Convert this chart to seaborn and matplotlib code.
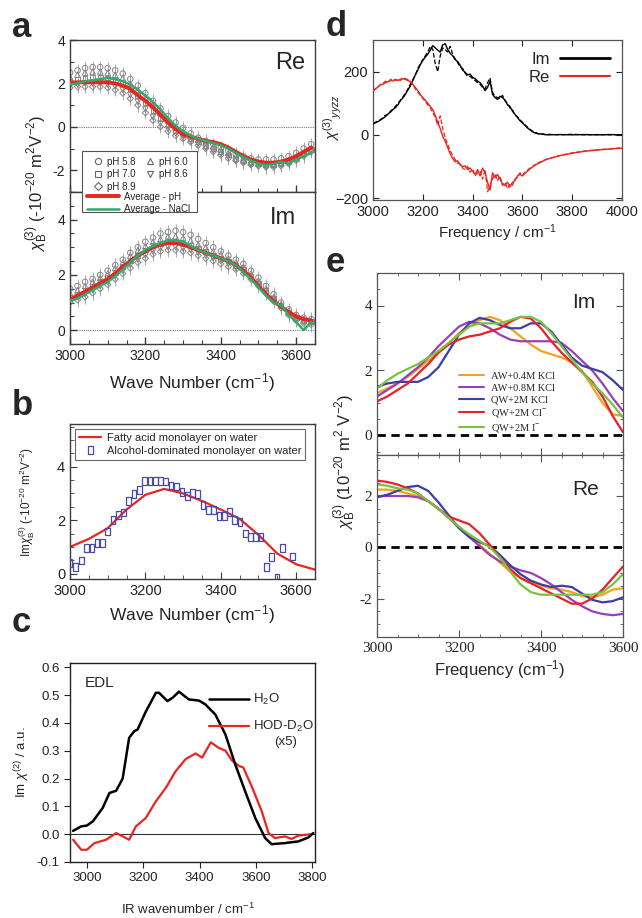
import numpy as np
import pandas as pd
import matplotlib
matplotlib.use("Agg")
import matplotlib.pyplot as plt
import seaborn as sns
from matplotlib.lines import Line2D
from matplotlib.patches import Rectangle
from matplotlib.ticker import MultipleLocator, FuncFormatter, FormatStrFormatter

# ====================== DATA ======================
# ---- panel a (pH series, Re and Im) ----
a_wn = list(range(3000, 3641, 20))
a_ph_labels = ["pH 5.8", "pH 6.0", "pH 7.0", "pH 8.6", "pH 8.9"]
a_re_ph58 = [2.5, 2.6, 2.7, 2.75, 2.75, 2.7, 2.6, 2.45, 2.2, 1.9, 1.55, 1.2, 0.85, 0.5, 0.2, -0.05, -0.3, -0.5, -0.65,
             -0.8, -0.95, -1.1, -1.25, -1.35, -1.45, -1.5, -1.5, -1.5, -1.45, -1.35, -1.2, -1.0, -0.8]
a_re_ph60 = [2.3, 2.4, 2.5, 2.55, 2.55, 2.5, 2.4, 2.25, 2.0, 1.7, 1.35, 1.0, 0.65, 0.3, 0.0, -0.25, -0.45, -0.6, -0.75,
             -0.9, -1.05, -1.2, -1.35, -1.5, -1.6, -1.65, -1.7, -1.7, -1.65, -1.55, -1.4, -1.2, -1.0]
a_re_ph70 = [2.1, 2.2, 2.25, 2.3, 2.3, 2.25, 2.15, 2.0, 1.75, 1.45, 1.1, 0.75, 0.4, 0.1, -0.15, -0.35, -0.55, -0.7, -0.85,
             -1.0, -1.15, -1.3, -1.45, -1.55, -1.65, -1.7, -1.75, -1.75, -1.7, -1.6, -1.45, -1.25, -1.05]
a_re_ph86 = [1.9, 1.95, 2.0, 2.0, 2.0, 1.95, 1.85, 1.7, 1.45, 1.15, 0.8, 0.45, 0.15, -0.1, -0.3, -0.5, -0.65, -0.8, -0.95,
             -1.1, -1.25, -1.4, -1.55, -1.65, -1.75, -1.8, -1.85, -1.8, -1.75, -1.65, -1.5, -1.3, -1.1]
a_re_ph89 = [1.8, 1.85, 1.85, 1.85, 1.85, 1.8, 1.7, 1.55, 1.3, 1.0, 0.65, 0.3, 0.0, -0.2, -0.4, -0.55, -0.7, -0.85, -1.0,
             -1.15, -1.3, -1.45, -1.55, -1.65, -1.75, -1.8, -1.85, -1.85, -1.8, -1.7, -1.55, -1.35, -1.15]
a_re_avg_ph = [2.05, 2.05, 2.05, 2.05, 2.05, 2.05, 2.0, 1.9, 1.75, 1.45, 1.2, 0.9, 0.55, 0.2, -0.1, -0.35, -0.45, -0.55,
               -0.65, -0.7, -0.8, -0.95, -1.15, -1.35, -1.5, -1.6, -1.65, -1.65, -1.6, -1.5, -1.35, -1.15, -0.95]
a_re_avg_nacl = [1.95, 2.0, 2.1, 2.15, 2.2, 2.25, 2.2, 2.1, 1.95, 1.7, 1.45, 1.15, 0.8, 0.4, 0.05, -0.2, -0.4, -0.55,
                 -0.65, -0.75, -0.85, -1.0, -1.2, -1.4, -1.55, -1.7, -1.75, -1.72, -1.6, -1.7, -1.5, -1.35, -1.2]
a_im_ph58 = [1.5, 1.6, 1.75, 1.85, 2.0, 2.15, 2.35, 2.55, 2.8, 3.0, 3.2, 3.35, 3.5, 3.55, 3.6, 3.55, 3.45, 3.3, 3.15,
             3.0, 2.85, 2.7, 2.55, 2.4, 2.15, 1.9, 1.6, 1.3, 1.0, 0.75, 0.55, 0.45, 0.4]
a_im_ph60 = [1.35, 1.45, 1.6, 1.75, 1.9, 2.05, 2.25, 2.45, 2.7, 2.9, 3.05, 3.2, 3.3, 3.4, 3.4, 3.35, 3.25, 3.1, 3.0,
             2.85, 2.75, 2.6, 2.45, 2.3, 2.05, 1.8, 1.5, 1.2, 0.95, 0.7, 0.5, 0.4, 0.35]
a_im_ph70 = [1.2, 1.3, 1.45, 1.6, 1.75, 1.9, 2.1, 2.3, 2.5, 2.7, 2.9, 3.05, 3.15, 3.2, 3.2, 3.15, 3.05, 2.95, 2.85,
             2.7, 2.6, 2.5, 2.35, 2.2, 1.95, 1.7, 1.45, 1.15, 0.9, 0.65, 0.45, 0.35, 0.3]
a_im_ph86 = [1.1, 1.2, 1.3, 1.45, 1.6, 1.75, 1.95, 2.15, 2.35, 2.55, 2.7, 2.85, 2.95, 3.0, 3.0, 2.95, 2.9, 2.8, 2.7,
             2.6, 2.5, 2.4, 2.25, 2.1, 1.9, 1.65, 1.4, 1.1, 0.85, 0.6, 0.4, 0.3, 0.25]
a_im_ph89 = [1.0, 1.1, 1.2, 1.35, 1.5, 1.65, 1.85, 2.05, 2.25, 2.45, 2.6, 2.75, 2.85, 2.9, 2.9, 2.85, 2.8, 2.7, 2.6,
             2.5, 2.4, 2.3, 2.2, 2.05, 1.85, 1.6, 1.35, 1.05, 0.8, 0.55, 0.35, 0.25, 0.2]
a_im_avg_ph = [1.1, 1.25, 1.4, 1.55, 1.7, 1.85, 2.05, 2.3, 2.5, 2.7, 2.85, 3.0, 3.1, 3.15, 3.15, 3.1, 3.0, 2.9, 2.8,
               2.7, 2.6, 2.5, 2.35, 2.15, 1.9, 1.6, 1.3, 1.05, 0.85, 0.65, 0.5, 0.4, 0.35]
a_im_avg_nacl = [1.05, 1.15, 1.3, 1.45, 1.6, 1.75, 1.95, 2.2, 2.45, 2.7, 2.9, 3.05, 3.15, 3.25, 3.25, 3.2, 3.05, 2.9,
                 2.8, 2.7, 2.6, 2.5, 2.35, 2.1, 1.85, 1.55, 1.25, 1.0, 0.9, 0.55, 0.3, 0.0, 0.3]
a_re_err = 0.3
a_im_err = 0.25

# ---- panel b ----
b_fit_wn = [3000, 3050, 3100, 3150, 3200, 3250, 3300, 3350, 3400, 3450, 3500, 3550, 3600, 3650]
b_fit_val = [1.0, 1.3, 1.7, 2.4, 2.95, 3.17, 3.0, 2.72, 2.4, 2.05, 1.45, 0.75, 0.35, 0.15]
b_pts_wn = [2999, 3014, 3030, 3043, 3058, 3072, 3086, 3100, 3114, 3128, 3142, 3156, 3170, 3184, 3198, 3212, 3226,
            3240, 3254, 3268, 3282, 3297, 3311, 3325, 3339, 3353, 3367, 3381, 3395, 3409, 3423, 3437, 3451, 3465,
            3479, 3493, 3507, 3521, 3535, 3549, 3563, 3591]
b_pts_val = [0.39, 0.24, 0.49, 0.96, 0.96, 1.15, 1.15, 1.58, 2.02, 2.19, 2.29, 2.72, 2.98, 3.13, 3.48, 3.48, 3.48,
             3.48, 3.45, 3.3, 3.26, 3.07, 2.91, 3.01, 2.98, 2.57, 2.38, 2.38, 2.15, 2.15, 2.31, 2.02, 1.94, 1.5,
             1.37, 1.37, 1.37, 0.24, 0.62, -0.15, 0.97, 0.64]

# ---- panel c ----
c_h2o_wn = [2951, 2980, 3000, 3021, 3056, 3080, 3104, 3127, 3150, 3168, 3180, 3209, 3245, 3256, 3286, 3304, 3327,
            3362, 3398, 3421, 3456, 3492, 3527, 3562, 3598, 3633, 3656, 3703, 3751, 3786, 3804]
c_h2o_val = [0.012, 0.028, 0.031, 0.046, 0.094, 0.148, 0.156, 0.2, 0.346, 0.37, 0.376, 0.44, 0.508, 0.508, 0.478,
             0.49, 0.512, 0.484, 0.48, 0.466, 0.43, 0.358, 0.25, 0.154, 0.058, -0.014, -0.036, -0.032, -0.026,
             -0.012, 0.004]
c_hod_wn = [2951, 2980, 3000, 3027, 3068, 3104, 3127, 3150, 3174, 3209, 3245, 3280, 3315, 3351, 3386, 3409, 3440,
            3468, 3492, 3515, 3540, 3555, 3586, 3621, 3645, 3668, 3703, 3727, 3751, 3798]
c_hod_val = [-0.02, -0.056, -0.056, -0.032, -0.02, 0.004, -0.008, -0.02, 0.028, 0.058, 0.118, 0.166, 0.226, 0.27,
             0.29, 0.275, 0.33, 0.31, 0.3, 0.265, 0.245, 0.24, 0.17, 0.082, 0.004, -0.014, -0.008, -0.017, -0.005, 0.0]

# ---- panel d ----
d_wn = list(range(3000, 3701, 10)) + [3750, 3800, 3850, 3900, 3950, 4000]
d_im_solid = [35, 38, 42, 47, 52, 58, 66, 72, 80, 86, 95, 108, 117, 128, 142, 155, 172, 190, 205, 222, 235, 246, 255,
              268, 282, 275, 268, 262, 285, 288, 270, 258, 250, 238, 232, 220, 205, 198, 190, 192, 182, 178, 170, 165,
              155, 140, 150, 170, 128, 118, 112, 122, 118, 110, 95, 90, 75, 65, 55, 45, 38, 30, 22, 16, 10, 6, 4, 3,
              2, 1, 0, 1, 0, 1, 0, 1, 0]
d_im_dash = [38, 40, 44, 48, 55, 62, 64, 75, 82, 90, 100, 110, 120, 132, 145, 160, 175, 188, 210, 225, 238, 250, 262,
             280, 270, 225, 200, 250, 275, 270, 262, 280, 255, 240, 228, 215, 210, 195, 185, 185, 178, 172, 165, 160,
             150, 145, 165, 180, 135, 122, 118, 115, 125, 108, 100, 85, 80, 62, 58, 48, 40, 32, 25, 18, 12, 8, 5, 2,
             4, 1, 2, 0, 2, 0, 1, 0, 1]
d_re_solid = [140, 145, 152, 158, 160, 165, 168, 172, 170, 175, 172, 176, 178, 175, 172, 168, 160, 150, 140, 128, 118,
              110, 100, 90, 80, 62, 40, 20, -5, -20, -40, -60, -75, -85, -82, -95, -100, -98, -110, -105, -115, -125,
              -110, -130, -105, -120, -150, -175, -120, -135, -125, -140, -155, -160, -150, -165, -150, -145, -130,
              -125, -130, -122, -115, -108, -102, -96, -92, -88, -84, -80, -77, -66, -58, -52, -48, -45, -42]
d_re_dash = [138, 146, 150, 160, 163, 170, 166, 175, 178, 172, 178, 172, 180, 178, 175, 170, 158, 145, 135, 125, 115,
             105, 95, 85, 70, 55, 30, 60, 20, -10, -30, -50, -65, -78, -90, -92, -105, -110, -100, -118, -108, -130,
             -120, -115, -140, -110, -180, -160, -140, -125, -145, -130, -160, -150, -170, -155, -160, -140, -135,
             -120, -128, -118, -112, -105, -100, -95, -90, -86, -82, -79, -76, -65, -57, -51, -47, -44, -41]

# ---- panel e ----
e_wn = list(range(3000, 3601, 25))
e_labels = ["AW+0.4M KCl", "AW+0.8M KCl", "QW+2M KCl", "QW+2M Cl$^{-}$", "QW+2M I$^{-}$"]
e_im_aw04 = [1.3, 1.45, 1.6, 1.8, 2.05, 2.3, 2.55, 2.85, 3.15, 3.35, 3.55, 3.65, 3.55, 3.3, 3.05, 2.8, 2.6, 2.5, 2.4,
             2.25, 2.0, 1.5, 1.0, 0.65, 0.6]
e_im_aw08 = [1.2, 1.4, 1.6, 1.85, 2.1, 2.4, 2.75, 3.05, 3.35, 3.5, 3.45, 3.3, 3.1, 2.95, 2.9, 2.9, 2.9, 2.9, 2.85,
             2.6, 2.3, 2.0, 1.6, 1.15, 0.75]
e_im_qwkcl = [1.5, 1.6, 1.65, 1.65, 1.65, 1.8, 2.1, 2.6, 3.1, 3.45, 3.62, 3.55, 3.4, 3.3, 3.3, 3.45, 3.45, 3.2, 2.8,
              2.4, 2.15, 2.05, 1.95, 1.7, 1.4]
e_im_qwcl = [1.05, 1.2, 1.4, 1.6, 1.9, 2.2, 2.55, 2.8, 2.95, 3.05, 3.1, 3.2, 3.3, 3.5, 3.65, 3.6, 3.3, 2.9, 2.55,
             2.25, 1.95, 1.65, 1.2, 0.6, 0.1]
e_im_qwi = [1.45, 1.7, 1.9, 2.05, 2.2, 2.4, 2.6, 2.85, 3.1, 3.35, 3.45, 3.45, 3.45, 3.55, 3.65, 3.65, 3.5, 3.15, 2.75,
            2.35, 1.95, 1.6, 1.3, 0.95, 0.55]
e_re_aw04 = [2.25, 2.25, 2.2, 2.1, 2.0, 1.8, 1.5, 1.15, 0.8, 0.45, 0.1, -0.25, -0.6, -0.95, -1.2, -1.35, -1.5, -1.6,
             -1.65, -1.75, -1.9, -1.95, -1.85, -1.65, -1.6]
e_re_aw08 = [2.0, 2.0, 2.0, 2.0, 1.95, 1.8, 1.5, 1.15, 0.75, 0.4, 0.05, -0.3, -0.55, -0.75, -0.9, -1.0, -1.2, -1.45,
             -1.75, -2.05, -2.3, -2.5, -2.6, -2.65, -2.6]
e_re_qwkcl = [1.95, 2.05, 2.2, 2.35, 2.4, 2.2, 1.75, 1.25, 0.75, 0.4, 0.2, 0.05, -0.3, -0.7, -1.05, -1.3, -1.45, -1.55,
              -1.5, -1.55, -1.8, -2.05, -2.15, -2.1, -1.95]
e_re_qwcl = [2.6, 2.55, 2.45, 2.3, 2.1, 1.8, 1.5, 1.2, 1.05, 0.9, 0.55, 0.1, -0.4, -0.85, -1.2, -1.4, -1.6, -1.8, -2.0,
             -2.2, -2.2, -2.0, -1.65, -1.2, -0.75]
e_re_qwi = [2.45, 2.4, 2.3, 2.25, 2.1, 1.8, 1.5, 1.15, 0.8, 0.5, 0.25, 0.0, -0.4, -0.95, -1.45, -1.75, -1.85, -1.85,
            -1.85, -1.85, -1.85, -1.85, -1.75, -1.45, -1.05]

# ====================== STYLE ======================
sns.set_style("ticks")
plt.rcParams["font.family"] = ["Liberation Sans", "DejaVu Sans"]
plt.rcParams["mathtext.fontset"] = "custom"
plt.rcParams["mathtext.rm"] = "Liberation Sans"
plt.rcParams["mathtext.it"] = "Liberation Sans:italic"
plt.rcParams["mathtext.bf"] = "Liberation Sans:bold"
plt.rcParams["axes.unicode_minus"] = False

W, H = 642, 918
fig = plt.figure(figsize=(W / 100, H / 100), dpi=100)
fig.patch.set_facecolor("white")


def prect(x0, y0, x1, y1):
    return [x0 / W, 1 - y1 / H, (x1 - x0) / W, (y1 - y0) / H]


def fx(x):
    return x / W


def fy(y):
    return 1 - y / H


RED = "#e8251f"
GREEN = "#2eab6e"
FRAME = "#3c3c3c"

ax_are = fig.add_axes(prect(70, 40, 315, 192))
ax_aim = fig.add_axes(prect(70, 192, 315, 344))
ax_b = fig.add_axes(prect(70, 424, 315, 579))
ax_c = fig.add_axes(prect(70, 663, 315, 862))
ax_d = fig.add_axes(prect(373, 40, 622, 200))
ax_eim = fig.add_axes(prect(377, 273, 623, 455))
ax_ere = fig.add_axes(prect(377, 455, 623, 637))


def style_frame(ax, color=FRAME, lw=1.0):
    for s in ax.spines.values():
        s.set_color(color)
        s.set_linewidth(lw)


# ====================== PANEL a ======================
markers_ph = ["o", "^", "s", "v", "D"]
sizes_ph = [16, 16, 12, 16, 10]
for ax, series, err, avg_ph, avg_na in [
    (ax_are, [a_re_ph58, a_re_ph60, a_re_ph70, a_re_ph86, a_re_ph89], a_re_err, a_re_avg_ph, a_re_avg_nacl),
    (ax_aim, [a_im_ph58, a_im_ph60, a_im_ph70, a_im_ph86, a_im_ph89], a_im_err, a_im_avg_ph, a_im_avg_nacl),
]:
    ax.axhline(0, color="#777777", lw=0.8, ls=(0, (1, 1)), zorder=0)
    for vals, mk, sz in zip(series, markers_ph, sizes_ph):
        ax.errorbar(a_wn, vals, yerr=err, fmt="none", ecolor="#a0a0a0", elinewidth=0.6, zorder=1)
        sns.scatterplot(x=a_wn, y=vals, marker=mk, s=sz, color="none", edgecolor="#858585",
                        linewidth=0.7, ax=ax, zorder=2)
    sns.lineplot(x=a_wn, y=avg_ph, color=RED, lw=2.8, ax=ax, zorder=3)
    sns.lineplot(x=a_wn, y=avg_na, color=GREEN, lw=1.8, ax=ax, zorder=4)
    ax.set_xlim(3000, 3650)
    ax.xaxis.set_major_locator(MultipleLocator(200))
    ax.xaxis.set_minor_locator(MultipleLocator(50))
    ax.yaxis.set_major_locator(MultipleLocator(2))
    ax.tick_params(which="both", direction="in", top=False, right=False, labelsize=10, colors="#222222")
    ax.tick_params(which="major", length=5, width=1, color=FRAME)
    ax.tick_params(which="minor", length=3, width=0.8, color=FRAME)
    ax.set_xlabel("")
    ax.set_ylabel("")
    style_frame(ax)

ax_are.set_ylim(-3, 4)
ax_are.yaxis.set_minor_locator(MultipleLocator(1))
ax_are.tick_params(labelbottom=False)
ax_are.set_yticks([-2, 0, 2, 4])
ax_aim.set_ylim(-0.5, 5)
ax_aim.yaxis.set_minor_locator(MultipleLocator(0.5))
ax_aim.set_yticks([0, 2, 4])
ax_are.text(0.9, 0.85, "Re", transform=ax_are.transAxes, fontsize=17, ha="center", va="center")
ax_aim.text(0.87, 0.83, "Im", transform=ax_aim.transAxes, fontsize=17, ha="center", va="center")

# panel a legend (figure level so it sits over both axes)
fig.add_artist(Rectangle((fx(82), fy(212)), (197 - 82) / W, (212 - 151) / H, transform=fig.transFigure,
                         facecolor="white", edgecolor="#555555", lw=0.8, zorder=4))
ph_handles = [Line2D([], [], ls="none", marker=m, mfc="none", mec="#666666", ms=4.5, mew=0.8) for m in markers_ph]
order = [0, 2, 4, 1, 3]
fig.legend([ph_handles[i] for i in order], [a_ph_labels[i] for i in order], loc="upper left",
           bbox_to_anchor=(fx(86), fy(150)), ncol=2, frameon=False, fontsize=7, handlelength=1.0,
           handletextpad=0.5, columnspacing=0.9, labelspacing=0.25, borderpad=0.2)
avg_handles = [Line2D([], [], color=RED, lw=2.8), Line2D([], [], color=GREEN, lw=1.8)]
fig.legend(avg_handles, ["Average - pH", "Average - NaCl"], loc="upper left", bbox_to_anchor=(fx(80), fy(185)),
           frameon=False, fontsize=7, handlelength=3.3, handletextpad=0.5, labelspacing=0.25, borderpad=0.2)

fig.text(fx(37), fy(183), r"$\chi_{\rm B}^{(3)}$ (-10$^{-20}$ m$^2$V$^{-2}$)", rotation=90, ha="center",
         va="center", fontsize=12)
fig.text(fx(192), fy(383), r"Wave Number (cm$^{-1}$)", ha="center", va="center", fontsize=12.5, color="#222222")

# ====================== PANEL b ======================
sns.lineplot(x=b_fit_wn, y=b_fit_val, color=RED, lw=1.6, ax=ax_b, zorder=2)
rect_marker = [(-0.6, -1), (0.6, -1), (0.6, 1), (-0.6, 1), (-0.6, -1)]
sns.scatterplot(x=b_pts_wn, y=b_pts_val, marker=rect_marker, s=32, color="none", edgecolor="#4a4aaa",
                linewidth=0.9, ax=ax_b, zorder=3)
ax_b.set_xlim(3000, 3650)
ax_b.set_ylim(-0.2, 5.6)
ax_b.xaxis.set_major_locator(MultipleLocator(200))
ax_b.xaxis.set_minor_locator(MultipleLocator(50))
ax_b.set_yticks([0, 2, 4])
ax_b.yaxis.set_minor_locator(MultipleLocator(0.5))
ax_b.tick_params(which="both", direction="in", top=False, right=False, labelsize=10.5, colors="#222222")
ax_b.tick_params(which="major", length=5, color=FRAME)
ax_b.tick_params(which="minor", length=3, color=FRAME)
ax_b.set_xlabel("")
ax_b.set_ylabel("")
style_frame(ax_b)
b_handles = [Line2D([], [], color=RED, lw=1.6),
             Line2D([], [], ls="none", marker=rect_marker, mfc="none", mec="#4a4aaa", ms=6, mew=0.9)]
lg = ax_b.legend(b_handles, ["Fatty acid monolayer on water", "Alcohol-dominated monolayer on water"],
                 loc="upper left", bbox_to_anchor=(0.02, 0.965), fontsize=8, frameon=True, fancybox=False,
                 handlelength=2.0, handletextpad=0.5, labelspacing=0.25, borderpad=0.35, borderaxespad=0)
lg.get_frame().set_edgecolor("#444444")
lg.get_frame().set_linewidth(0.8)
fig.text(fx(27), fy(502), r"Im$\chi_{\rm B}^{(3)}$ (-10$^{-20}$ m$^2$V$^{-2}$)", rotation=90, ha="center",
         va="center", fontsize=8.5)
fig.text(fx(192), fy(615), r"Wave Number (cm$^{-1}$)", ha="center", va="center", fontsize=12.5, color="#222222")

# ====================== PANEL c ======================
ax_c.axhline(0, color="#333333", lw=0.8, zorder=0)
sns.lineplot(x=c_h2o_wn, y=c_h2o_val, color="black", lw=1.8, ax=ax_c, zorder=3)
sns.lineplot(x=c_hod_wn, y=c_hod_val, color=RED, lw=1.6, ax=ax_c, zorder=2)
ax_c.set_xlim(2940, 3810)
ax_c.set_ylim(-0.1, 0.615)
ax_c.set_xticks([3000, 3200, 3400, 3600, 3800])
ax_c.set_yticks([-0.1, 0.0, 0.1, 0.2, 0.3, 0.4, 0.5, 0.6])
ax_c.yaxis.set_major_formatter(FormatStrFormatter("%.1f"))
ax_c.tick_params(direction="out", length=4, labelsize=9.5, colors="#222222")
ax_c.set_xlabel("")
ax_c.set_ylabel("")
style_frame(ax_c, "#222222", 1.0)
ax_c.text(0.06, 0.9, "EDL", transform=ax_c.transAxes, fontsize=11, ha="left", va="center")
c_handles = [Line2D([], [], color="black", lw=1.8), Line2D([], [], color=RED, lw=1.6)]
ax_c.legend(c_handles, ["H$_2$O", "HOD-D$_2$O"], loc="upper left", bbox_to_anchor=(fx(200), fy(683)),
            bbox_transform=fig.transFigure, frameon=False, fontsize=9.5, handlelength=3.0,
            handletextpad=0.3, labelspacing=0.9, borderpad=0.2)
fig.text(fx(286), fy(742), "(x5)", fontsize=9.5, ha="center", va="center")
fig.text(fx(22), fy(762), r"Im $\chi^{(2)}$ / a.u.", rotation=90, ha="center", va="center", fontsize=9.5)
fig.text(fx(188), fy(909), r"IR wavenumber / cm$^{-1}$", ha="center", va="center", fontsize=9.5)

# ====================== PANEL d ======================
sns.lineplot(x=d_wn, y=d_im_dash, color="black", lw=0.9, ls="--", ax=ax_d, zorder=2)
sns.lineplot(x=d_wn, y=d_im_solid, color="black", lw=1.0, ax=ax_d, zorder=3)
sns.lineplot(x=d_wn, y=d_re_dash, color=RED, lw=0.9, ls="--", ax=ax_d, zorder=2)
sns.lineplot(x=d_wn, y=d_re_solid, color=RED, lw=1.0, ax=ax_d, zorder=3)
ax_d.set_xlim(3000, 4000)
ax_d.set_ylim(-206, 300)
ax_d.set_xticks([3000, 3200, 3400, 3600, 3800, 4000])
ax_d.set_yticks([-200, 0, 200])
ax_d.yaxis.set_major_formatter(FuncFormatter(lambda v, p: f"{int(round(v))}".replace("-", "\u2212")))
ax_d.tick_params(direction="in", length=4, top=True, right=True, labelsize=10.5, colors="#222222")
ax_d.set_xlabel("")
ax_d.set_ylabel("")
style_frame(ax_d, "#555555", 0.9)
d_handles = [Line2D([], [], color="black", lw=2.0), Line2D([], [], color=RED, lw=1.5)]
ax_d.legend(d_handles, ["Im", "Re"], loc="upper right", frameon=False, fontsize=12, markerfirst=False,
            handlelength=3.0, handletextpad=0.6, labelspacing=0.2, borderaxespad=0.3)
fig.text(fx(333), fy(118), r"$\chi^{(3)}{}_{yyzz}$", rotation=90, ha="center", va="center", fontsize=11)
fig.text(fx(497), fy(233), r"Frequency / cm$^{-1}$", ha="center", va="center", fontsize=11)

# ====================== PANEL e ======================
E_COLORS = ["#f7a21c", "#9a3fb7", "#3a3fa8", "#e8202a", "#79c143"]
for ax, series in [(ax_eim, [e_im_aw04, e_im_aw08, e_im_qwkcl, e_im_qwcl, e_im_qwi]),
                   (ax_ere, [e_re_aw04, e_re_aw08, e_re_qwkcl, e_re_qwcl, e_re_qwi])]:
    df = pd.DataFrame({"wn": np.tile(e_wn, len(series)),
                       "val": np.concatenate(series),
                       "cond": np.repeat(e_labels, len(e_wn))})
    ax.axhline(0, color="black", lw=2.0, ls=(0, (3, 2)), zorder=1)
    sns.lineplot(data=df, x="wn", y="val", hue="cond", hue_order=e_labels, palette=E_COLORS, lw=1.6,
                 ax=ax, legend=False, zorder=2)
    ax.set_xlim(3000, 3600)
    ax.xaxis.set_major_locator(MultipleLocator(200))
    ax.xaxis.set_minor_locator(MultipleLocator(50))
    ax.yaxis.set_major_locator(MultipleLocator(2))
    ax.yaxis.set_minor_locator(MultipleLocator(0.5))
    ax.tick_params(which="both", direction="in", top=True, right=True, labelsize=11, colors="#222222")
    ax.tick_params(which="major", length=5, color="#555555")
    ax.tick_params(which="minor", length=2.5, color="#555555")
    ax.set_xlabel("")
    ax.set_ylabel("")
    style_frame(ax, "#555555", 0.9)

ax_eim.set_ylim(-0.6, 5)
ax_eim.set_yticks([0, 2, 4])
ax_eim.tick_params(labelbottom=False)
ax_ere.set_ylim(-3.5, 3.6)
ax_ere.set_yticks([-2, 0, 2])
ax_ere.set_xticks([3000, 3200, 3400, 3600])
for ax in (ax_eim, ax_ere):
    for lbl in ax.get_xticklabels() + ax.get_yticklabels():
        lbl.set_fontfamily("Liberation Serif")
ax_eim.text(0.84, 0.84, "Im", transform=ax_eim.transAxes, fontsize=15, ha="center", va="center")
ax_ere.text(0.85, 0.81, "Re", transform=ax_ere.transAxes, fontsize=15, ha="center", va="center")
e_handles = [Line2D([], [], color=c, lw=1.5) for c in E_COLORS]
ax_eim.legend(e_handles, e_labels, loc="upper left", bbox_to_anchor=(fx(450), fy(362)),
              bbox_transform=fig.transFigure, frameon=False, prop={"family": "Liberation Serif", "size": 7.5},
              handlelength=2.4, handletextpad=0.6, labelspacing=0.25)
fig.text(fx(345), fy(462), r"$\chi_{\rm B}^{(3)}$ (10$^{-20}$ m$^2$ V$^{-2}$)", rotation=90, ha="center",
         va="center", fontsize=12)
fig.text(fx(500), fy(670), r"Frequency (cm$^{-1}$)", ha="center", va="center", fontsize=12)

# ====================== panel letters ======================
for letter, x, y in [("a", 12, 37), ("b", 12, 415), ("c", 12, 632), ("d", 326, 36), ("e", 326, 272)]:
    fig.text(fx(x), fy(y), letter, fontsize=25, fontweight="bold", ha="left", va="baseline")

fig.savefig("out.png", dpi=100, facecolor="white")
